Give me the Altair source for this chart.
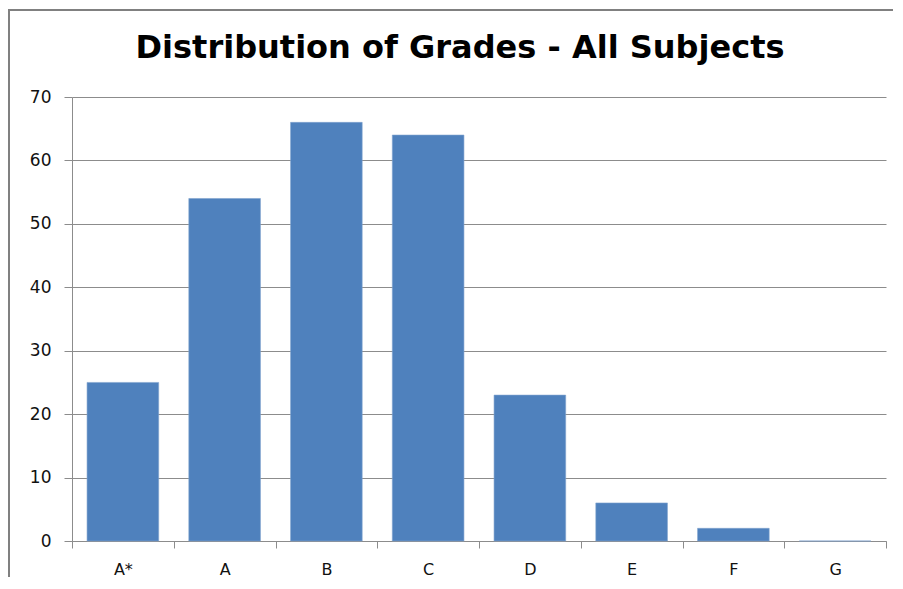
import altair as alt
import pandas as pd

grades = ["A*", "A", "B", "C", "D", "E", "F", "G"]
counts = [25, 54, 66, 64, 23, 6, 2, 0]
y_ticks = [0, 10, 20, 30, 40, 50, 60, 70]
title_text = "Distribution of Grades - All Subjects"

df = pd.DataFrame({"grade": grades, "count": counts})
title_df = pd.DataFrame({"t": [title_text]})

FONT = "DejaVu Sans"
LINE = "#8c8c8c"

bars = alt.Chart(df).mark_bar(
    color="#4F81BD", stroke="#7FA3CF", strokeWidth=0.6,
    width=alt.RelativeBandSize(0.704)
).encode(
    x=alt.X("grade:N", sort=grades, title=None,
            scale=alt.Scale(paddingInner=0, paddingOuter=0),
            axis=alt.Axis(labelAngle=0, labelFontSize=16, labelColor="#111111",
                          labelFont=FONT, tickBand="extent", tickSize=7,
                          tickColor=LINE, domainColor=LINE, labelPadding=13,
                          grid=False)),
    y=alt.Y("count:Q", title=None,
            scale=alt.Scale(domain=[0, 70], nice=False),
            axis=alt.Axis(values=y_ticks, labelFontSize=17, labelColor="#111111",
                          labelFont=FONT, tickSize=8, tickColor=LINE,
                          domainColor=LINE, gridColor=LINE, labelPadding=13,
                          grid=True)),
)

title = alt.Chart(title_df).mark_text(
    font=FONT, fontSize=32, fontWeight="bold", color="#000000",
    align="center", baseline="alphabetic"
).encode(text="t:N", x=alt.value(388), y=alt.value(-39))

frame_top = alt.Chart(df).mark_rule(color="#808080", strokeWidth=2).encode(
    x=alt.value(-64), x2=alt.value(830), y=alt.value(-87)
)
frame_left = alt.Chart(df).mark_rule(color="#808080", strokeWidth=2).encode(
    x=alt.value(-63), y=alt.value(-87), y2=alt.value(480)
)

chart = alt.layer(frame_top, frame_left, bars, title).properties(
    width=814, height=444,
    autosize=alt.AutoSizeParams(type="none"),
    padding={"left": 64, "top": 89, "right": 7, "bottom": 36},
).configure_view(stroke=None)

chart.save("out.html", embed_options={"renderer": "svg", "actions": False})
